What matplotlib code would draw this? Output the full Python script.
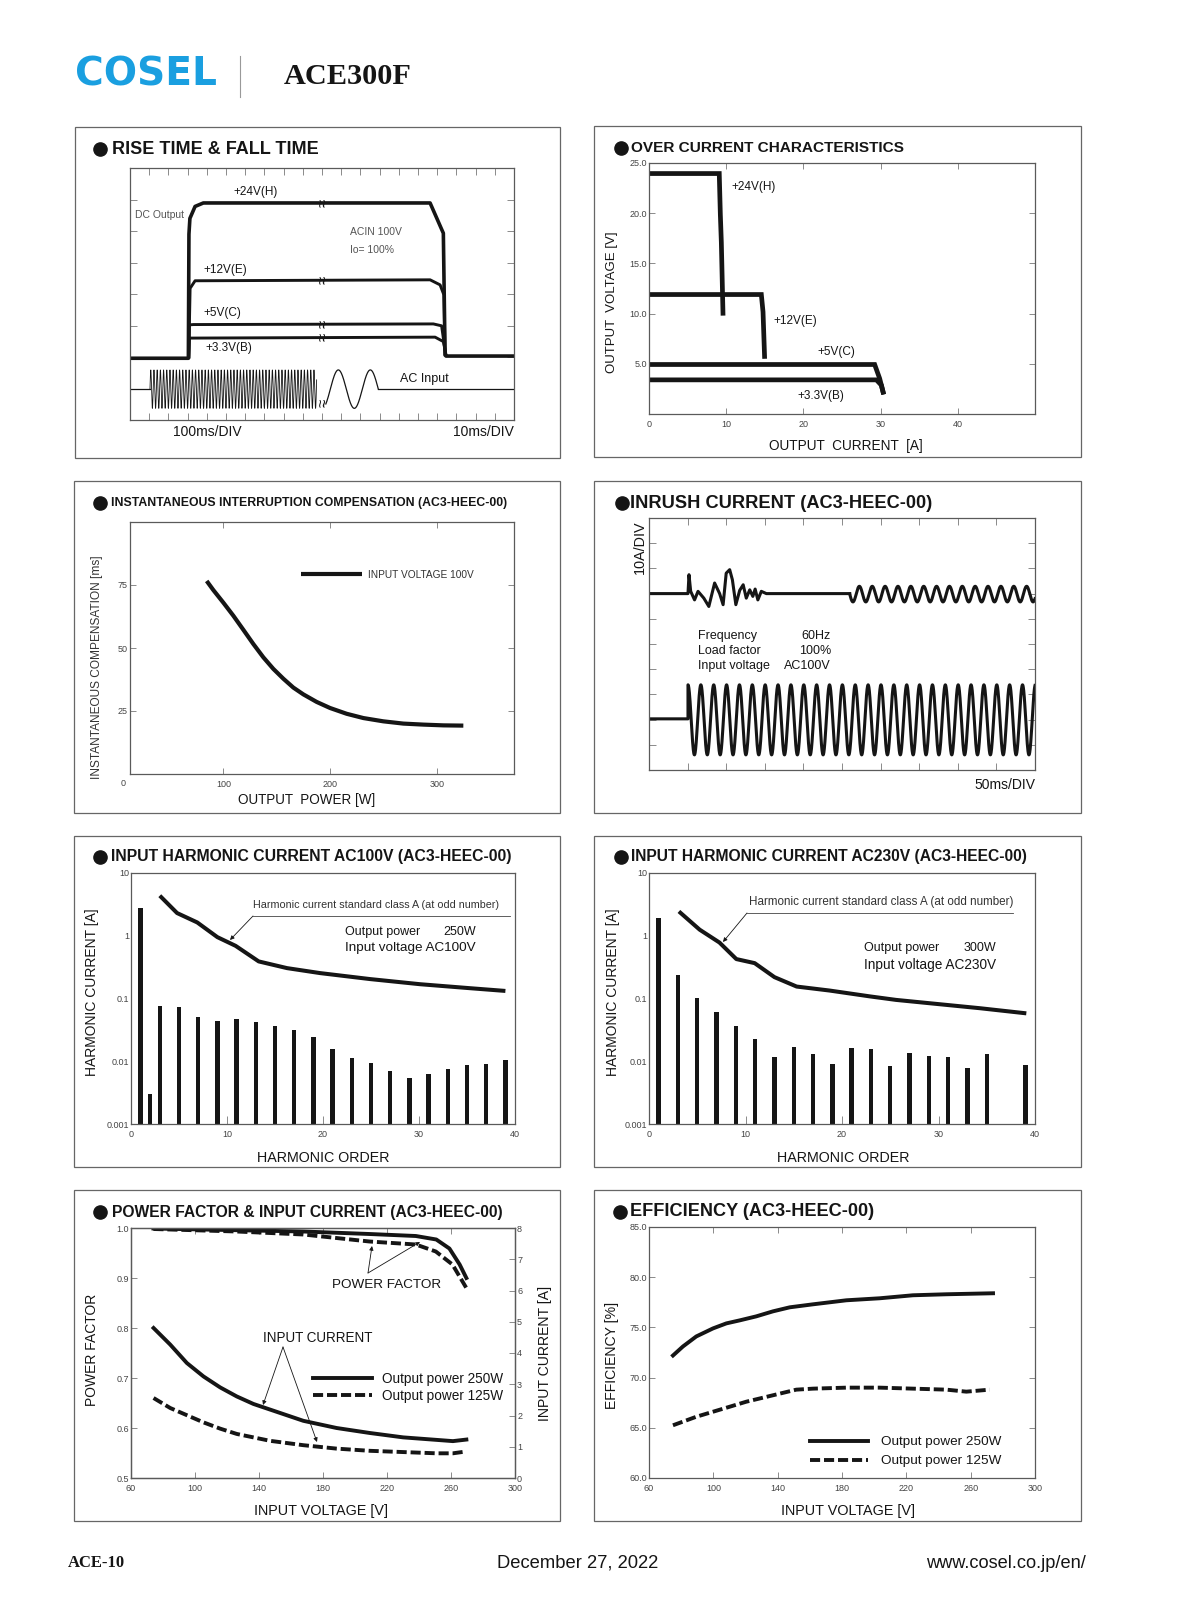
import numpy as np
import matplotlib.pyplot as plt
from matplotlib.patches import Rectangle
from matplotlib.ticker import NullLocator

plt.rcParams['font.family'] = ['Liberation Sans', 'DejaVu Sans']
NARROW = ['Liberation Sans Narrow', 'Liberation Sans', 'DejaVu Sans']
SERIF = ['Liberation Serif', 'DejaVu Serif']

W, H = 1200, 1600
INK = '#151515'
GREY = '#5a5a5a'
TICK = '#8a8a8a'

# ---------------- data ----------------
# rise / fall time, in scope divisions (20 x 8)
rt24_x = [0, 3.04, 3.07, 3.12, 3.39, 3.82, 15.63, 16.32, 16.41, 16.46, 20]
rt24_y = [1.96, 1.96, 5.9, 6.4, 6.78, 6.89, 6.89, 5.93, 2.07, 2.03, 2.03]
rt12_x = [3.06, 3.13, 3.39, 15.63, 16.15, 16.35, 16.41]
rt12_y = [2.0, 4.18, 4.42, 4.45, 4.29, 3.97, 2.07]
rt5_x = [3.06, 3.09, 3.3, 15.8, 16.23, 16.44]
rt5_y = [2.0, 3.02, 3.03, 3.05, 2.99, 2.07]
rt33_x = [3.06, 3.09, 15.89, 16.32, 16.46]
rt33_y = [2.0, 2.6, 2.63, 2.49, 2.07]
rt_break_x = 10.07
rt_break_y = [6.89, 4.45, 3.04, 2.63, 0.55]
ac_freq = 60            # Hz
ac_ms_left = 100        # ms/DIV before the break
ac_ms_right = 10        # ms/DIV after the break
ac_level, ac_amp = 0.98, 0.61
ac_dense = (1.04, 9.72)
ac_slow = (10.2, 12.93)
ac_slow_peak = 10.85

# over current characteristics
ocp24_i = [0, 9.1, 9.24, 9.37, 9.59]
ocp24_v = [23.95, 23.95, 19.9, 17.1, 9.8]
ocp12_i = [0, 14.55, 14.77, 14.98]
ocp12_v = [11.9, 11.9, 10.17, 5.5]
ocp5_i = [0, 29.23, 29.88, 30.4]
ocp5_v = [4.93, 4.93, 3.53, 1.95]
ocp33_i = [0, 29.45, 30.1, 30.4]
ocp33_v = [3.4, 3.4, 2.87, 1.95]

# instantaneous interruption compensation
inst_power = [84.4, 90.6, 100, 109.4, 118.8, 128.1, 137.5, 146.9, 156.3, 165.6, 175, 187.5,
              200, 215.6, 231.3, 250, 268.8, 287.5, 306.3, 325]
inst_ms = [76.6, 73.0, 68.0, 62.8, 57.2, 51.6, 46.3, 41.7, 37.8, 34.3, 31.6, 28.6,
           26.2, 23.9, 22.2, 20.9, 20.0, 19.6, 19.3, 19.2]

# inrush current, in scope divisions (10 x 10)
inr_burst_x = [1.01, 1.036, 1.08, 1.18, 1.27, 1.42, 1.55, 1.70, 1.83, 1.92, 2.00, 2.09,
               2.16, 2.25, 2.35, 2.44, 2.52, 2.61, 2.69, 2.75, 2.82, 2.91, 3.04]
inr_burst_y = [7.0, 7.75, 7.09, 6.75, 7.09, 6.82, 6.49, 7.42, 7.0, 6.56, 7.81, 7.95,
               7.55, 6.56, 7.13, 7.35, 6.82, 7.15, 6.89, 7.18, 6.75, 7.09, 7.0]
inr_freq = 60
inr_ms_div = 50
inr_up_start, inr_up_level, inr_up_amp = 5.2, 6.98, 0.31
inr_lo_start, inr_lo_base, inr_lo_level, inr_lo_amp = 1.01, 2.03, 1.99, 1.39

# input harmonic current
h100_order = [1, 2, 3, 5, 7, 9, 11, 13, 15, 17, 19, 21, 23, 25, 27, 29, 31, 33, 35, 37, 39]
h100_val = [2.76, 0.002, 0.076, 0.073, 0.049, 0.043, 0.047, 0.041, 0.035, 0.031, 0.023,
            0.0146, 0.0103, 0.0084, 0.0060, 0.0044, 0.0052, 0.0065, 0.0076, 0.0082, 0.0096]
h100_lim_order = [3, 4.8, 6.9, 9, 10.9, 13.3, 16.25, 19.7, 24.9, 30.1, 35.3, 39]
h100_lim = [4.35, 2.30, 1.63, 0.95, 0.69, 0.39, 0.305, 0.254, 0.204, 0.169, 0.146, 0.132]

h230_order = [1, 3, 5, 7, 9, 11, 13, 15, 17, 19, 21, 23, 25, 27, 29, 31, 33, 35, 39]
h230_val = [1.89, 0.236, 0.10, 0.059, 0.0353, 0.0219, 0.0108, 0.0161, 0.0122, 0.0082,
            0.0155, 0.0145, 0.00755, 0.0125, 0.0112, 0.0108, 0.00676, 0.0119, 0.0077]
h230_lim_order = [3.1, 5.25, 7.3, 9.05, 10.95, 13.0, 15.3, 18.7, 22.9, 25.6, 29.1, 34.3, 39.1]
h230_lim = [2.44, 1.25, 0.78, 0.425, 0.366, 0.219, 0.155, 0.134, 0.108, 0.095, 0.084, 0.070, 0.058]

# power factor & input current
pf250_v = [74, 120, 167.7, 209, 238, 250.8, 259, 265.4, 269.6]
pf250 = [0.999, 0.996, 0.993, 0.988, 0.984, 0.977, 0.959, 0.927, 0.900]
pf125_v = [74, 126, 167.7, 209, 238, 250.5, 260.9, 269.6]
pf125 = [0.998, 0.993, 0.987, 0.973, 0.967, 0.953, 0.927, 0.88]
ic250_v = [74.1, 84.5, 94.9, 105.3, 115.7, 126.1, 136.5, 146.9, 157.3, 167.7, 188.5, 209.3,
           230.1, 250.9, 261.2, 269.6]
ic250 = [4.80, 4.27, 3.68, 3.25, 2.90, 2.61, 2.37, 2.19, 2.01, 1.83, 1.60, 1.44,
         1.30, 1.22, 1.18, 1.23]
ic125_v = [74.1, 84.5, 94.9, 105.3, 115.7, 126.1, 146.9, 167.7, 188.5, 209.3, 230.1, 250.9,
           261.2, 269.6]
ic125 = [2.56, 2.24, 2.01, 1.78, 1.58, 1.41, 1.19, 1.05, 0.94, 0.87, 0.83, 0.79, 0.79, 0.85]

# efficiency
eff250_v = [74.9, 81.1, 89.4, 99.8, 108.1, 116.4, 126.7, 137.1, 147.5, 162.0, 182.7, 203.4,
            224.1, 244.9, 273.9]
eff250 = [72.2, 73.1, 74.1, 74.9, 75.4, 75.7, 76.1, 76.6, 77.0, 77.3, 77.7, 77.9,
          78.2, 78.3, 78.4]
eff125_v = [74.9, 89.4, 99.8, 110.2, 120.5, 130.9, 141.2, 151.6, 162.0, 182.7, 203.4, 224.1,
            244.9, 257.3, 271.8]
eff125 = [65.25, 66.1, 66.6, 67.1, 67.6, 68.0, 68.4, 68.8, 68.9, 69.0, 69.0, 68.9,
          68.8, 68.6, 68.8]

# ---------------- figure ----------------
fig = plt.figure(figsize=(12, 16), dpi=100)
ov = fig.add_axes([0, 0, 1, 1], zorder=5)
ov.set_xlim(0, W)
ov.set_ylim(H, 0)
ov.axis('off')
ov.patch.set_alpha(0)
renderer = fig.canvas.get_renderer()


def put(x, y, s, size, width=None, rot=0, **kw):
    kw.setdefault('color', INK)
    kw.setdefault('va', 'center')
    t = ov.text(x, y, s, fontsize=size, rotation=rot, **kw)
    if width:
        bb = t.get_window_extent(renderer)
        cur = bb.height if rot else bb.width
        t.set_fontsize(size * width / cur)
    return t


def panel(l, t, r, b):
    ax = fig.add_axes([l / W, 1 - b / H, (r - l) / W, (b - t) / H])
    for s in ax.spines.values():
        s.set_color(GREY)
        s.set_linewidth(0.9)
    ax.tick_params(direction='in', length=4, width=0.7, color=TICK,
                   labelsize=6.5, labelcolor='#444', top=True, right=True)
    ax.tick_params(axis='x', pad=4)
    ax.tick_params(axis='y', pad=1.5)
    return ax


def box(l, t, r, b):
    ov.add_patch(Rectangle((l, t), r - l, b - t, fill=False, ec='#666', lw=0.9))


def title(cx, tx, y, s, width, family=None):
    ov.plot(cx, y, 'o', ms=9.5, color=INK)
    kw = dict(fontweight='bold', ha='left')
    if family:
        kw['family'] = family
    put(tx, y, s, 12, width=width, **kw)


def arrow(p0, p1):
    ov.annotate('', xy=p1, xytext=p0,
                arrowprops=dict(arrowstyle='-|>', lw=0.6, color=INK,
                                mutation_scale=6, shrinkA=0, shrinkB=0))


for b in [(75, 127, 560, 458), (594, 126, 1081, 457), (74, 481, 560, 813), (594, 481, 1081, 813),
          (74, 836, 560, 1167), (594, 836, 1081, 1167), (74, 1190, 560, 1521), (594, 1190, 1081, 1521)]:
    box(*b)

# header / footer
put(75, 74, 'COSEL', 30, width=142, color='#1a9fe0', fontweight='bold', ha='left',
    family=['DejaVu Sans'])
ov.plot([240, 240], [56, 97], color='#999', lw=0.8)
put(284, 76, 'ACE300F', 24, width=128, fontweight='bold', ha='left', family=SERIF)
put(68, 1563, 'ACE-10', 12, width=57, fontweight='bold', ha='left', family=SERIF)
put(578, 1563, 'December 27, 2022', 11.5, width=161, ha='center')
put(1086, 1563, 'www.cosel.co.jp/en/', 11.5, width=161, ha='right')

# ---- 1. rise time & fall time ----
title(100, 112, 149, 'RISE TIME & FALL TIME', 206)
ax1 = panel(130, 168, 514, 420)
ax1.set_xlim(0, 20)
ax1.set_ylim(0, 8)
ax1.set_xticks(range(1, 20))
ax1.set_yticks(range(1, 8))
ax1.tick_params(labelbottom=False, labelleft=False, length=5)
ax1.plot(rt24_x, rt24_y, color=INK, lw=2.6, solid_joinstyle='round')
for xs, ys in [(rt12_x, rt12_y), (rt5_x, rt5_y), (rt33_x, rt33_y)]:
    ax1.plot(xs, ys, color=INK, lw=2.1, solid_joinstyle='round')
t = np.linspace(ac_dense[0], ac_dense[1], 4000)
cyc = ac_freq * ac_ms_left / 1000.0
ax1.plot(t, ac_level + ac_amp * np.sin(2 * np.pi * cyc * (t - ac_dense[0])), color=INK, lw=0.6)
t = np.linspace(ac_slow[0], ac_slow[1], 300)
per = 1000.0 / ac_freq / ac_ms_right
ax1.plot(t, ac_level + ac_amp * np.cos(2 * np.pi * (t - ac_slow_peak) / per), color=INK, lw=0.9)
ax1.plot([0, ac_dense[0]], [ac_level, ac_level], color=INK, lw=0.9)
ax1.plot([ac_slow[1], 20], [ac_level, ac_level], color=INK, lw=0.9)
for yb in rt_break_y:
    ax1.text(rt_break_x, yb, '\u2248', rotation=90, fontsize=11, ha='center', va='center',
             color=INK)
put(233, 192, '+24V(H)', 8.5, ha='left')
put(135, 215, 'DC Output', 7.5, color='#555', ha='left', family=NARROW)
put(350, 232, 'ACIN 100V', 7.5, color='#555', ha='left', family=NARROW)
put(350, 250, 'Io= 100%', 7.5, color='#555', ha='left', family=NARROW)
put(203, 270, '+12V(E)', 8.5, ha='left')
put(203, 313, '+5V(C)', 8.5, ha='left')
put(205, 348, '+3.3V(B)', 8.5, ha='left')
put(400, 379, 'AC Input', 9, ha='left')
put(207, 432, '100ms/DIV', 10, ha='center')
put(514, 432, '10ms/DIV', 10, ha='right')

# ---- 2. over current characteristics ----
title(621, 631, 148, 'OVER CURRENT CHARACTERISTICS', 273)
ax2 = panel(649, 163, 1035, 414)
ax2.set_xlim(0, 50)
ax2.set_ylim(0, 25)
ax2.set_xticks([0, 10, 20, 30, 40])
ax2.set_yticks([5, 10, 15, 20, 25])
ax2.set_yticklabels(['5.0', '10.0', '15.0', '20.0', '25.0'])
for xs, ys in [(ocp24_i, ocp24_v), (ocp12_i, ocp12_v), (ocp5_i, ocp5_v), (ocp33_i, ocp33_v)]:
    ax2.plot(xs, ys, color=INK, lw=3.4, solid_capstyle='butt', solid_joinstyle='miter')
put(731, 187, '+24V(H)', 8.5, ha='left')
put(773, 321, '+12V(E)', 8.5, ha='left')
put(817, 352, '+5V(C)', 8.5, ha='left')
put(797, 396, '+3.3V(B)', 8.5, ha='left')
put(612, 302, 'OUTPUT  VOLTAGE [V]', 9, width=142, rot=90, ha='center')
put(846, 446, 'OUTPUT  CURRENT  [A]', 9, width=154, ha='center')

# ---- 3. instantaneous interruption compensation ----
title(100, 111, 503, 'INSTANTANEOUS INTERRUPTION COMPENSATION (AC3-HEEC-00)', 392, family=NARROW)
ax3 = panel(130, 522, 514, 774)
ax3.set_xlim(12.5, 372.5)
ax3.set_ylim(0, 100)
ax3.set_xticks([100, 200, 300])
ax3.set_yticks([25, 50, 75])
ax3.plot(inst_power, inst_ms, color=INK, lw=3.0, solid_capstyle='butt')
ov.plot([301, 362], [574, 574], color=INK, lw=3.0, solid_capstyle='butt')
put(368, 575, 'INPUT VOLTAGE 100V', 8, width=106, ha='left', family=NARROW, color='#333')
put(97, 667, 'INSTANTANEOUS COMPENSATION [ms]', 8.5, width=223, rot=90, ha='center',
    family=NARROW, color='#333')
put(307, 800, 'OUTPUT  POWER [W]', 9, width=138, ha='center')
put(123, 783, '0', 6.5, color='#444', ha='center')

# ---- 4. inrush current ----
title(622, 630, 503, 'INRUSH CURRENT (AC3-HEEC-00)', 300)
ax4 = panel(649, 518, 1035, 770)
ax4.set_xlim(0, 10)
ax4.set_ylim(0, 10)
ax4.set_xticks(range(1, 10))
ax4.set_yticks(range(1, 10))
ax4.tick_params(labelbottom=False, labelleft=False, length=5)
cyc = inr_freq * inr_ms_div / 1000.0
ax4.plot([0] + inr_burst_x + [inr_up_start], [7.0] + inr_burst_y + [7.0], color=INK, lw=2.2,
         solid_joinstyle='round')
t = np.linspace(inr_up_start, 10, 1200)
ax4.plot(t, inr_up_level - inr_up_amp * np.sin(2 * np.pi * cyc * (t - inr_up_start)), color=INK, lw=2.2)
t = np.linspace(inr_lo_start, 10, 4000)
ax4.plot(np.r_[0, inr_lo_start, t], np.r_[inr_lo_base, inr_lo_base,
         inr_lo_level + inr_lo_amp * np.cos(2 * np.pi * cyc * (t - inr_lo_start))], color=INK, lw=2.2)
put(640, 547, '10A/DIV', 9.5, width=54, rot=90, ha='center')
for yy, a, b in [(636, 'Frequency', '60Hz'), (651, 'Load factor', '100%'), (666, 'Input voltage', 'AC100V')]:
    put(698, yy, a, 9, ha='left')
    put(831, yy, b, 9, ha='right')
put(1035, 785, '50ms/DIV', 10, ha='right')


# ---- 5/6. input harmonic current ----
def harmonic(l, t, r, b, order, val, lim_o, lim):
    ax = panel(l, t, r, b)
    ax.set_yscale('log')
    ax.set_xlim(0, 40)
    ax.set_ylim(0.001, 10)
    ax.set_xticks([0, 10, 20, 30, 40])
    ax.set_yticks([0.001, 0.01, 0.1, 1, 10])
    ax.set_yticklabels(['0.001', '0.01', '0.1', '1', '10'])
    ax.yaxis.set_minor_locator(NullLocator())
    ax.tick_params(axis='y', length=0, right=False)
    ax.tick_params(axis='x', top=False, length=6)
    ax.bar(order, val, width=0.45, bottom=0.001, color=INK)
    ax.plot(lim_o, lim, color=INK, lw=2.9, solid_capstyle='butt')
    return ax


title(100, 111, 857, 'INPUT HARMONIC CURRENT AC100V (AC3-HEEC-00)', 398)
harmonic(131, 873, 515, 1124, h100_order, h100_val, h100_lim_order, h100_lim)
put(253, 905, 'Harmonic current standard class A (at odd number)', 8, width=247, ha='left',
    family=NARROW, color='#333')
ov.plot([253, 510], [916, 916], color='#444', lw=0.6)
arrow((253, 916), (230, 940))
put(345, 932, 'Output power', 9, ha='left')
put(476, 932, '250W', 9, ha='right')
put(345, 948, 'Input voltage AC100V', 9, width=131, ha='left')
put(92, 992, 'HARMONIC CURRENT [A]', 9.5, width=169, rot=90, ha='center')
put(323, 1158, 'HARMONIC ORDER', 9, width=133, ha='center')

title(621, 631, 857, 'INPUT HARMONIC CURRENT AC230V (AC3-HEEC-00)', 397)
harmonic(649, 873, 1035, 1124, h230_order, h230_val, h230_lim_order, h230_lim)
put(749, 902, 'Harmonic current standard class A (at odd number)', 8, width=264, ha='left',
    family=NARROW, color='#333')
ov.plot([747, 1013], [913, 913], color='#444', lw=0.6)
arrow((747, 913), (723, 942))
put(864, 948, 'Output power', 9, ha='left')
put(996, 948, '300W', 9, ha='right')
put(864, 965, 'Input voltage AC230V', 9, width=132, ha='left')
put(613, 992, 'HARMONIC CURRENT [A]', 9.5, width=169, rot=90, ha='center')
put(843, 1158, 'HARMONIC ORDER', 9, width=133, ha='center')

# ---- 7. power factor & input current ----
DASH = (2.6, 1.0)
title(100, 112, 1212, 'POWER FACTOR & INPUT CURRENT (AC3-HEEC-00)', 391)
ax7 = panel(131, 1228, 515, 1478)
ax7.set_xlim(60, 300)
ax7.set_ylim(0.5, 1.0)
ax7.set_xticks(range(60, 301, 40))
ax7.set_yticks([0.5, 0.6, 0.7, 0.8, 0.9, 1.0])
ax7.set_yticklabels(['0.5', '0.6', '0.7', '0.8', '0.9', '1.0'])
ax7.tick_params(axis='y', right=False)
ax7r = ax7.twinx()
ax7r.set_ylim(0, 8)
ax7r.set_yticks(range(0, 9))
ax7r.tick_params(direction='in', length=4, width=0.7, color=TICK, labelsize=6.5,
                 labelcolor='#444', pad=1.5)
for s in ax7r.spines.values():
    s.set_color(GREY)
    s.set_linewidth(0.9)
ax7.plot(pf250_v, pf250, color=INK, lw=2.8)
ax7.plot(pf125_v, pf125, color=INK, lw=2.8, dashes=DASH)
ax7r.plot(ic250_v, ic250, color=INK, lw=2.8)
ax7r.plot(ic125_v, ic125, color=INK, lw=2.8, dashes=DASH)
put(332, 1285, 'POWER FACTOR', 9, width=109, ha='left')
arrow((368, 1273), (372, 1246))
arrow((368, 1273), (420, 1242))
put(263, 1338, 'INPUT CURRENT', 9, width=110, ha='left')
arrow((283, 1347), (263, 1405))
arrow((283, 1347), (317, 1442))
ov.plot([313, 372], [1378, 1378], color=INK, lw=2.8)
ov.plot([313, 372], [1395, 1395], color=INK, lw=2.8, dashes=DASH)
put(382, 1379, 'Output power 250W', 9, width=121, ha='left')
put(382, 1396, 'Output power 125W', 9, width=121, ha='left')
put(92, 1350, 'POWER FACTOR', 10, width=112, rot=90, ha='center')
put(545, 1353, 'INPUT CURRENT [A]', 10, width=135, rot=90, ha='center')
put(321, 1511, 'INPUT VOLTAGE [V]', 9, width=134, ha='center', family=NARROW)

# ---- 8. efficiency ----
title(620, 630, 1212, 'EFFICIENCY (AC3-HEEC-00)', 243)
ax8 = panel(649, 1227, 1035, 1478)
ax8.set_xlim(60, 300)
ax8.set_ylim(60, 85)
ax8.set_xticks(range(60, 301, 40))
ax8.set_yticks(range(60, 86, 5))
ax8.set_yticklabels(['60.0', '65.0', '70.0', '75.0', '80.0', '85.0'])
ax8.plot(eff250_v, eff250, color=INK, lw=2.8)
ax8.plot(eff125_v, eff125, color=INK, lw=2.8, dashes=DASH)
ov.plot([810, 868], [1441, 1441], color=INK, lw=2.8)
ov.plot([810, 868], [1460, 1460], color=INK, lw=2.8, dashes=DASH)
put(881, 1442, 'Output power 250W', 9, width=120, ha='left')
put(881, 1461, 'Output power 125W', 9, width=120, ha='left')
put(612, 1355, 'EFFICIENCY [%]', 10, width=107, rot=90, ha='center')
put(848, 1511, 'INPUT VOLTAGE [V]', 9, width=134, ha='center', family=NARROW)

fig.savefig('out.png', dpi=100)
